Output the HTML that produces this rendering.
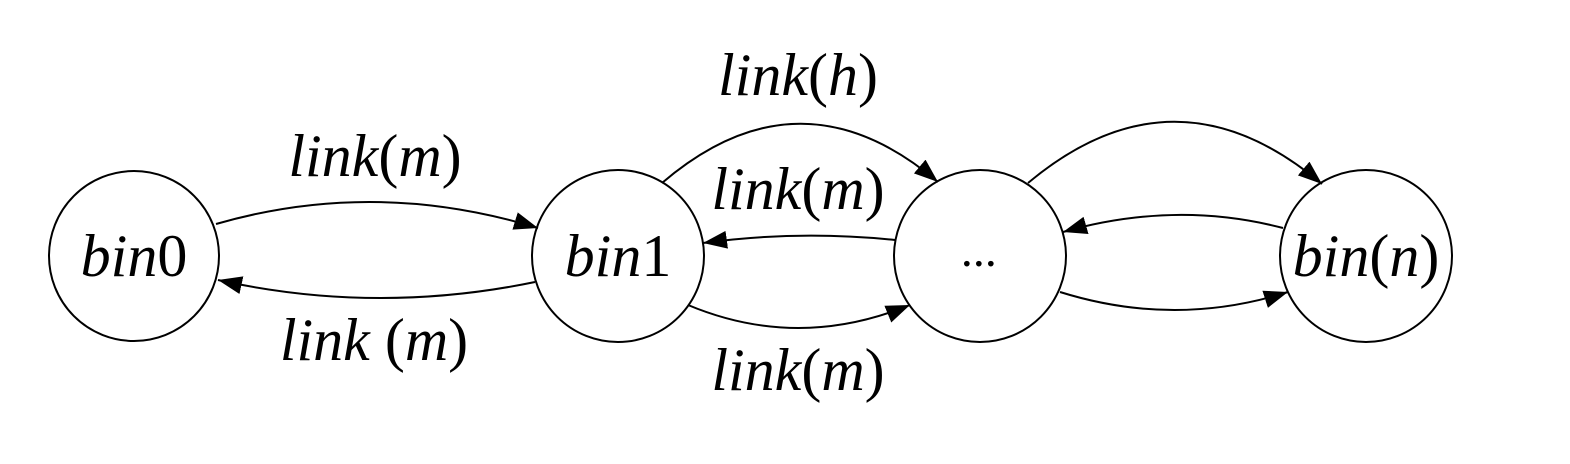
<!DOCTYPE html>
<html><head><meta charset="utf-8"><style>
html,body{margin:0;padding:0;background:#fff;}
svg{display:block;}
text{font-family:"Liberation Serif",serif;font-style:italic;fill:#000;}
</style></head><body>
<svg width="1570" height="464" viewBox="0 0 1570 464">
<defs>
<marker id="ah" markerUnits="userSpaceOnUse" markerWidth="26" markerHeight="20" refX="24" refY="9" orient="auto">
<path d="M0,0 L24,9 L0,18 z" fill="#000"/>
</marker>
</defs>
<g fill="none" stroke="#000" stroke-width="2">
<circle cx="134" cy="256" r="85"/>
<circle cx="618" cy="256" r="86"/>
<circle cx="980" cy="256" r="86"/>
<circle cx="1366" cy="256" r="86"/>
<path d="M216,224 Q375,178 538,228" marker-end="url(#ah)"/>
<path d="M535,282 Q376,315 218,280" marker-end="url(#ah)"/>
<path d="M662,183 Q800,65 938,182" marker-end="url(#ah)"/>
<path d="M895,240 Q798,230 703,243" marker-end="url(#ah)"/>
<path d="M688,305 Q798,351 910,305" marker-end="url(#ah)"/>
<path d="M1028,183 Q1175,60 1322,184" marker-end="url(#ah)"/>
<path d="M1283,228 Q1175,200 1063,232" marker-end="url(#ah)"/>
<path d="M1060,292 Q1175,328 1288,292" marker-end="url(#ah)"/>
</g>
<g font-size="60" text-anchor="middle">
<text x="134" y="276">bin<tspan font-style="normal">0</tspan></text>
<text x="618" y="276">bin<tspan font-style="normal">1</tspan></text>
<text x="980" y="266" font-style="normal" font-size="48">...</text>
<text x="1366" y="276">bin<tspan font-style="normal">(</tspan>n<tspan font-style="normal">)</tspan></text>
<text x="375" y="176">link<tspan font-style="normal">(</tspan>m<tspan font-style="normal">)</tspan></text>
<text x="374" y="360">link <tspan font-style="normal">(</tspan>m<tspan font-style="normal">)</tspan></text>
<text x="798" y="95">link<tspan font-style="normal">(</tspan>h<tspan font-style="normal">)</tspan></text>
<text x="798" y="209">link<tspan font-style="normal">(</tspan>m<tspan font-style="normal">)</tspan></text>
<text x="798" y="390">link<tspan font-style="normal">(</tspan>m<tspan font-style="normal">)</tspan></text>
</g>
</svg>
</body></html>
